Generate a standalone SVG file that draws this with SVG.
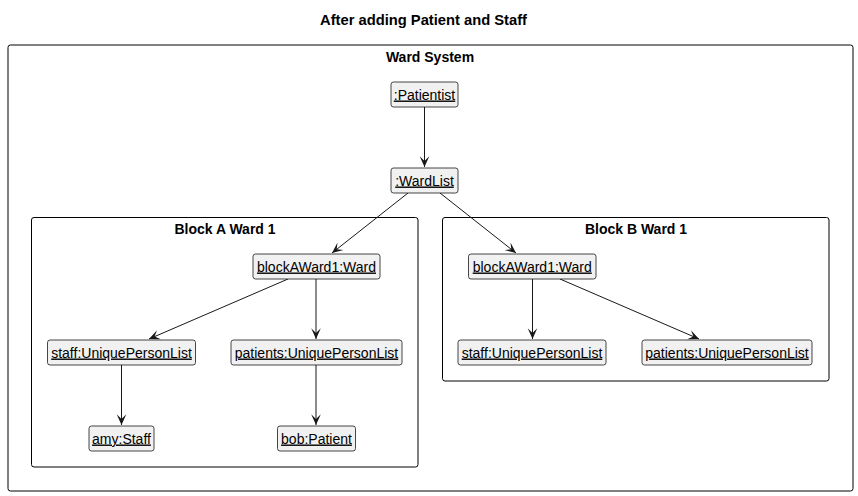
<svg xmlns="http://www.w3.org/2000/svg" width="858" height="496" viewBox="0 0 858 496">
<style>
.frame{fill:none;stroke:#000000;stroke-width:1}
.node rect{fill:#F1F1F1;stroke:#181818;stroke-width:0.8}
.node text{font-family:"Liberation Sans",Arial,sans-serif;font-size:14px;fill:#000;text-anchor:middle;text-decoration:underline}
.lbl{font-family:"Liberation Sans",Arial,sans-serif;font-size:14px;font-weight:bold;fill:#000;text-anchor:middle}
.edge{stroke:#181818;stroke-width:1;fill:none;marker-end:url(#arr)}
</style>
<defs>
<marker id="arr" markerUnits="userSpaceOnUse" markerWidth="12" markerHeight="12" viewBox="0 0 10 10" refX="9" refY="5" orient="auto">
<path d="M0,1 L9,5 L0,9 L4,5 Z" fill="#181818"/>
</marker>
</defs>
<rect width="858" height="496" fill="#FFFFFF"/>
<text class="lbl" x="423.5" y="25" textLength="207" lengthAdjust="spacingAndGlyphs">After adding Patient and Staff</text>
<g id="ward-system">
<rect class="frame" x="8" y="45" width="845" height="446" rx="2.5"/>
<text class="lbl" x="430" y="62">Ward System</text>
</g>
<g id="block-a">
<rect class="frame" x="31.5" y="217.5" width="386.5" height="249.5" rx="2.5"/>
<text class="lbl" x="225" y="234">Block A Ward 1</text>
</g>
<g id="block-b">
<rect class="frame" x="442.5" y="217.5" width="386.5" height="163.5" rx="2.5"/>
<text class="lbl" x="636" y="234">Block B Ward 1</text>
</g>
<g id="edges">
<line class="edge" x1="424.5" y1="107" x2="424.5" y2="167"/>
<line class="edge" x1="408" y1="193" x2="332" y2="253"/>
<line class="edge" x1="440" y1="193" x2="516" y2="253"/>
<line class="edge" x1="288" y1="279" x2="149" y2="339"/>
<line class="edge" x1="316" y1="279" x2="316" y2="339"/>
<line class="edge" x1="121.5" y1="365" x2="121.5" y2="425"/>
<line class="edge" x1="316" y1="365" x2="316" y2="425"/>
<line class="edge" x1="532.5" y1="279" x2="532.5" y2="339"/>
<line class="edge" x1="560" y1="279" x2="699" y2="339"/>
</g>
<g id="patientist" class="node">
<rect x="391" y="82" width="67" height="25" rx="2.5"/>
<text x="424.5" y="99.5">:Patientist</text>
</g>
<g id="wardlist" class="node">
<rect x="391" y="168" width="67" height="25" rx="2.5"/>
<text x="424.5" y="185.5">:WardList</text>
</g>
<g id="a-ward" class="node">
<rect x="253" y="254" width="127" height="25" rx="2.5"/>
<text x="316.5" y="271.5">blockAWard1:Ward</text>
</g>
<g id="a-staff" class="node">
<rect x="47.5" y="340" width="148" height="25" rx="2.5"/>
<text x="121.5" y="357.5">staff:UniquePersonList</text>
</g>
<g id="a-patients" class="node">
<rect x="231" y="340" width="171" height="25" rx="2.5"/>
<text x="316.5" y="357.5">patients:UniquePersonList</text>
</g>
<g id="amy" class="node">
<rect x="89" y="426" width="65" height="25" rx="2.5"/>
<text x="121.5" y="443.5">amy:Staff</text>
</g>
<g id="bob" class="node">
<rect x="277.5" y="426" width="78" height="25" rx="2.5"/>
<text x="316.5" y="443.5">bob:Patient</text>
</g>
<g id="b-ward" class="node">
<rect x="468.5" y="254" width="127.5" height="25" rx="2.5"/>
<text x="532.25" y="271.5">blockAWard1:Ward</text>
</g>
<g id="b-staff" class="node">
<rect x="458" y="340" width="148" height="25" rx="2.5"/>
<text x="532" y="357.5">staff:UniquePersonList</text>
</g>
<g id="b-patients" class="node">
<rect x="642" y="340" width="170" height="25" rx="2.5"/>
<text x="727" y="357.5">patients:UniquePersonList</text>
</g>
</svg>
